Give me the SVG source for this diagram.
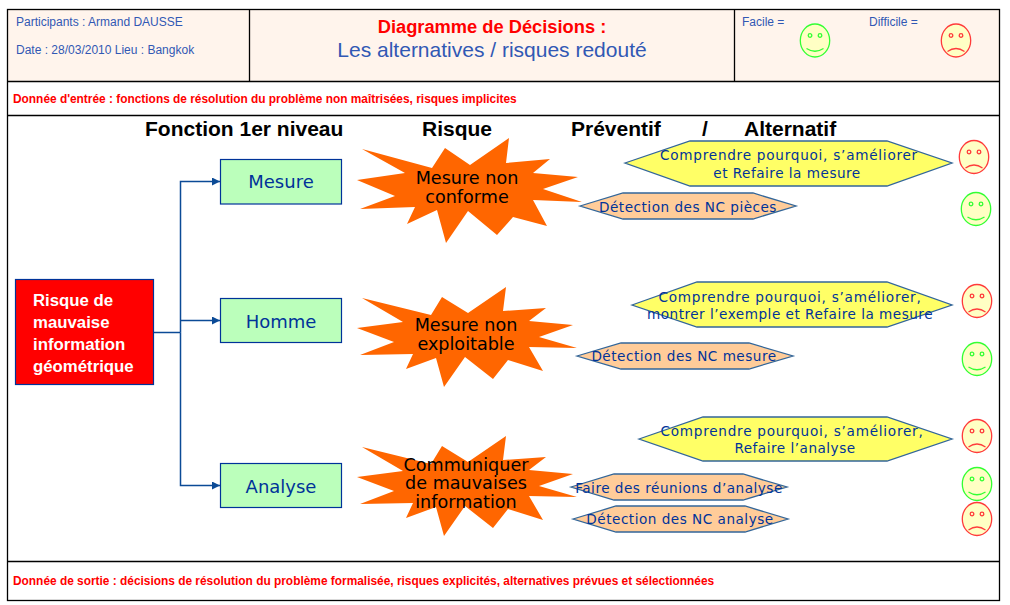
<svg xmlns="http://www.w3.org/2000/svg" xmlns:xlink="http://www.w3.org/1999/xlink" width="1010" height="605" viewBox="0 0 1010 605">
<style>
text{font-family:"Liberation Sans",Arial,sans-serif}
.line{stroke:#000;stroke-width:1.3;fill:none}
.hd{fill:#FFF4EC;stroke:none}
.meta{font-size:12px;fill:#3158B4}
.note{font-size:11.9px;font-weight:bold;fill:#F00}
.col{font-size:21px;font-weight:bold;fill:#000}
.fn{font-family:"DejaVu Sans",Verdana,sans-serif;font-size:18px;fill:#003399;text-anchor:middle}
.box{fill:#BBFFBB;stroke:#003399;stroke-width:1.2}
.star{fill:#FF6600}
.st{font-family:"DejaVu Sans",Verdana,sans-serif;font-size:17.6px;fill:#000;text-anchor:middle}
.yl{fill:#FFFF66;stroke:#336699;stroke-width:1.3}
.or{fill:#FFCC99;stroke:#336699;stroke-width:1.3}
.hx{font-family:"DejaVu Sans",Verdana,sans-serif;font-size:13.6px;letter-spacing:.5px;fill:#003399;text-anchor:middle}
.hc{letter-spacing:.75px}
.cn{stroke:#0B4A96;stroke-width:1.5;fill:none}
.f{fill:#FFFFC4;stroke-width:1.3}
.g{stroke:#33FF33}
.r{stroke:#FF3B3B}
.e{fill:none;stroke-width:1.3}
</style>
<defs>
<marker id="ah" markerUnits="userSpaceOnUse" markerWidth="9" markerHeight="9" refX="8" refY="4" orient="auto"><path d="M0 0L8 4L0 8Z" fill="#0B4A96"/></marker>
<g id="happy"><ellipse class="f g" rx="14.7" ry="16.5"/><circle class="e g" cx="-5" cy="-5" r="1.8"/><circle class="e g" cx="5" cy="-5" r="1.8"/><path class="e g" d="M-8.5 8Q0 13.500 8.500 8"/></g>
<g id="sad"><ellipse class="f r" rx="14.700" ry="16.500"/><circle class="e r" cx="-5" cy="-5" r="1.8"/><circle class="e r" cx="5" cy="-5" r="1.800"/><path class="e r" d="M-8.500 11Q0 5 8.500 11"/></g>
</defs>
<rect width="1010" height="605" fill="#fff"/>
<g id="frame">
<rect class="hd" x="8" y="10" width="991" height="71"/>
<rect class="line" x="7.500" y="9.500" width="992" height="591"/>
<path class="line" d="M7.500 81.500H999.500M7.500 115.500H999.500M7.500 561.500H999.500M249.500 9.500V81.500M734.500 9.500V81.500"/>
</g>
<g id="header">
<text class="meta" x="16" y="26">Participants : Armand DAUSSE</text>
<text class="meta" x="16" y="54">Date : 28/03/2010 Lieu : Bangkok</text>
<text x="492" y="33" text-anchor="middle" font-size="18.300" font-weight="bold" fill="#F00">Diagramme de Décisions :</text>
<text x="492" y="57" text-anchor="middle" font-size="21" fill="#3158B4">Les alternatives / risques redouté</text>
<text class="meta" x="742" y="26">Facile =</text>
<text class="meta" x="869" y="26">Difficile =</text>
<use xlink:href="#happy" href="#happy" x="815" y="40.500"/>
<use xlink:href="#sad" href="#sad" x="956" y="40.500"/>
<text class="note" x="13" y="103">Donnée d'entrée : fonctions de résolution du problème non maîtrisées, risques implicites</text>
<text class="note" x="13" y="585">Donnée de sortie : décisions de résolution du problème formalisée, risques explicités, alternatives prévues et sélectionnées</text>
</g>
<g id="columns">
<text class="col" x="145" y="136">Fonction 1er niveau</text>
<text class="col" x="422" y="136">Risque</text>
<text class="col" x="571" y="136">Préventif</text>
<text class="col" x="702" y="136">/</text>
<text class="col" x="744" y="136">Alternatif</text>
</g>
<g id="connectors">
<path class="cn" d="M154 332.500H180.500"/>
<path class="cn" marker-end="url(#ah)" d="M180.500 332.500V181.500H220"/>
<path class="cn" marker-end="url(#ah)" d="M180.500 320.500H220"/>
<path class="cn" marker-end="url(#ah)" d="M180.500 332.500V485.500H220"/>
</g>
<g id="risque">
<rect x="15.500" y="279.500" width="138" height="105" fill="#F00" stroke="#003399" stroke-width="1.200"/>
<g font-size="16.800" font-weight="bold" fill="#fff"><text x="33" y="306">Risque de</text><text x="33" y="328">mauvaise</text><text x="33" y="350">information</text><text x="33" y="372">géométrique</text></g>
</g>
<g id="fn-mesure"><rect class="box" x="220.500" y="159.500" width="121" height="44.500"/><text class="fn" x="281" y="188">Mesure</text></g>
<g id="fn-homme"><rect class="box" x="220.500" y="298.500" width="121" height="44"/><text class="fn" x="281" y="328">Homme</text></g>
<g id="fn-analyse"><rect class="box" x="220.500" y="463.500" width="121" height="44"/><text class="fn" x="281" y="493">Analyse</text></g>
<g id="star-1"><polygon class="star" points="357,180 405,173 362,149 432,168 445,148 470,165 509,138 506,163 550,159 533,173 578,177 543,189 582,202 533,200 547,226 513,217 497,235 468,211 446,243 437,210 407,224 415,207 360,209 395,196"/><text class="st" x="467" y="184">Mesure non</text><text class="st" x="467" y="203">conforme</text></g>
<g id="star-2"><polygon class="star" points="357,328 403,322 362,298 431,315 442,297 468,313 506,287 503,311 546,308 529,321 573,325 539,337 577,348 529,347 543,371 508,360 493,379 465,357 444,387 436,358 406,369 413,354 360,355 394,342"/><text class="st" x="466" y="331">Mesure non</text><text class="st" x="466" y="350">exploitable</text></g>
<g id="star-3"><polygon class="star" points="357,477 403,471 362,447 431,464 442,446 468,462 506,436 503,460 546,457 529,470 573,474 539,486 577,497 529,496 543,520 508,509 493,528 465,506 444,536 436,507 406,518 413,503 360,504 394,491"/><text class="st" x="466" y="471">Communiquer</text><text class="st" x="466" y="489">de mauvaises</text><text class="st" x="466" y="508">information</text></g>
<g id="alt-1"><polygon class="yl" points="625,163 690,141 887,141 952,163 887,186 690,186"/><text class="hx hc" x="789" y="160">Comprendre pourquoi, s’améliorer</text><text class="hx" x="787" y="178">et Refaire la mesure</text></g>
<g id="alt-2"><polygon class="or" points="580,206 623,193 753,193 796,206 753,219 623,219"/><text class="hx" x="688" y="212">Détection des NC pièces</text></g>
<g id="alt-3"><polygon class="yl" points="632,305 697,282 887,282 952,305 887,327 697,327"/><text class="hx hc" x="790" y="302">Comprendre pourquoi, s’améliorer,</text><text class="hx" x="790" y="319">montrer l’exemple et Refaire la mesure</text></g>
<g id="alt-4"><polygon class="or" points="577,356 621,343 749,343 793,356 749,369 621,369"/><text class="hx" x="684" y="361">Détection des NC mesure</text></g>
<g id="alt-5"><polygon class="yl" points="639,439 703,417 887,417 952,439 887,461 703,461"/><text class="hx hc" x="792" y="436">Comprendre pourquoi, s’améliorer,</text><text class="hx" x="795" y="453">Refaire l’analyse</text></g>
<g id="alt-6"><polygon class="or" points="571,487 614,474 743,474 787,487 743,500 614,500"/><text class="hx" x="679" y="493">Faire des réunions d’analyse</text></g>
<g id="alt-7"><polygon class="or" points="573,519 616,506 745,506 788,519 745,532 616,532"/><text class="hx" x="680" y="524">Détection des NC analyse</text></g>
<g id="faces">
<use xlink:href="#sad" href="#sad" x="974" y="157"/>
<use xlink:href="#happy" href="#happy" x="976" y="209"/>
<use xlink:href="#sad" href="#sad" x="977" y="301"/>
<use xlink:href="#happy" href="#happy" x="977" y="359"/>
<use xlink:href="#sad" href="#sad" x="977" y="436"/>
<use xlink:href="#happy" href="#happy" x="977" y="484"/>
<use xlink:href="#sad" href="#sad" x="977" y="519"/>
</g>
</svg>
